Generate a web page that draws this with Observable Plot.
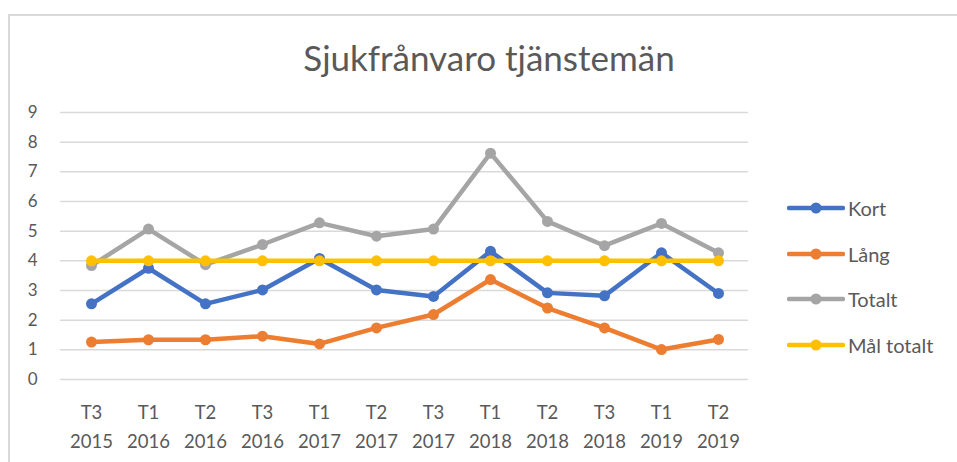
<!DOCTYPE html>
<html>
<head>
<meta charset="utf-8">
<script src="https://cdn.jsdelivr.net/npm/d3@7"></script>
<script src="https://cdn.jsdelivr.net/npm/@observablehq/plot@0.6"></script>
<style>
  html, body { margin: 0; padding: 0; background: #fff; }
  #wrap { position: relative; width: 957px; height: 462px; overflow: hidden; font-family: Lato, "Open Sans", sans-serif; color: #595959; }
  #frame { position: absolute; left: 8px; top: 14px; width: 1100px; height: 600px; border-top: 2px solid #d9d9d9; border-left: 2px solid #d9d9d9; }
  #title { position: absolute; left: 0; width: 978px; top: 36px; text-align: center; font-size: 35px; line-height: 1.2; white-space: nowrap; }
  #chart { position: absolute; left: 0; top: 90px; }
  #legend { position: absolute; left: 787px; top: 185px; }
  .row { height: 45.7px; display: flex; align-items: center; font-size: 20px; white-space: nowrap; }
  .row svg { margin-right: 3px; }
</style>
</head>
<body>
<div id="wrap">
  <div id="frame"></div>
  <div id="title">Sjukfrånvaro tjänstemän</div>
  <div id="chart"></div>
  <div id="legend"></div>
</div>
<script>
const terms = ["T3","T1","T2","T3","T1","T2","T3","T1","T2","T3","T1","T2"];
const years = ["2015","2016","2016","2016","2017","2017","2017","2018","2018","2018","2019","2019"];
const seriesNames = ["Kort", "Lång", "Totalt", "Mål totalt"];
const seriesColors = ["#4472C4", "#ED7D31", "#A5A5A5", "#FFC000"];
const kort   = [2.55, 3.75, 2.55, 3.02, 4.08, 3.02, 2.80, 4.32, 2.92, 2.82, 4.27, 2.90];
const lang   = [1.26, 1.34, 1.34, 1.46, 1.20, 1.74, 2.19, 3.37, 2.41, 1.74, 1.01, 1.35];
const totalt = [3.84, 5.07, 3.87, 4.55, 5.28, 4.83, 5.07, 7.63, 5.33, 4.51, 5.26, 4.27];
const malTotalt = [4, 4, 4, 4, 4, 4, 4, 4, 4, 4, 4, 4];
const yTicks = [0, 1, 2, 3, 4, 5, 6, 7, 8, 9];

const periods = terms.map((t, i) => t + "\n" + years[i]);
const seriesValues = [kort, lang, totalt, malTotalt];
const rows = seriesNames.flatMap((name, si) =>
  seriesValues[si].map((v, i) => ({ series: name, period: periods[i], value: v }))
);

const seriesMarks = seriesNames.flatMap(name => {
  const d = rows.filter(r => r.series === name);
  return [
    Plot.line(d, { x: "period", y: "value", stroke: "series", strokeWidth: 4.5, strokeLinejoin: "round", strokeLinecap: "round" }),
    Plot.dot(d, { x: "period", y: "value", fill: "series", r: 5.5 })
  ];
});

const chart = Plot.plot({
  width: 760,
  height: 372,
  marginLeft: 60,
  marginRight: 12,
  marginTop: 22,
  marginBottom: 83,
  style: { fontFamily: "Lato, 'Open Sans', sans-serif", color: "#595959", background: "transparent", overflow: "visible" },
  x: { type: "point", domain: periods, padding: 0.5 },
  y: { domain: [0, 9] },
  color: { domain: seriesNames, range: seriesColors },
  marks: [
    Plot.gridY(yTicks, { stroke: "#d9d9d9", strokeOpacity: 1, strokeWidth: 1.5 }),
    Plot.axisY(yTicks, { tickSize: 0, tickPadding: 23, fontSize: 17, label: null }),
    Plot.axisX({ tickSize: 0, tickPadding: 18, fontSize: 18.5, lineHeight: 1.6, label: null }),
    ...seriesMarks
  ]
});
document.getElementById("chart").appendChild(chart);

const legend = document.getElementById("legend");
seriesNames.forEach((name, i) => {
  const row = document.createElement("div");
  row.className = "row";
  const c = seriesColors[i];
  row.innerHTML = `<svg width="58" height="14"><line x1="2" y1="7" x2="56" y2="7" stroke="${c}" stroke-width="4.5" stroke-linecap="round"/><circle cx="29" cy="7" r="5.5" fill="${c}"/></svg><span>${name}</span>`;
  legend.appendChild(row);
});
</script>
</body>
</html>
